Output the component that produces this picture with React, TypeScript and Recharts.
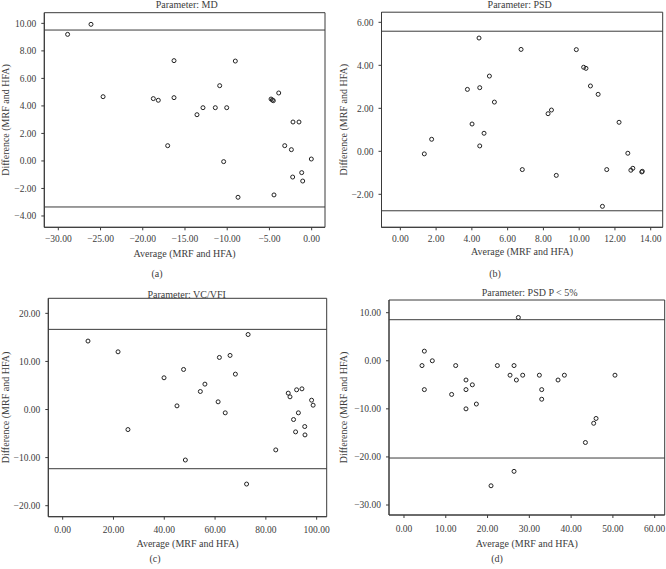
import React from 'react';
import { ScatterChart, Scatter, XAxis, YAxis, ReferenceLine, ReferenceArea, Label } from 'recharts';

// ---- Panel (a) MD ----
const mdAvg = [-28.9, -26.13, -24.7, -18.75, -18.16, -16.3, -16.3, -17.05, -13.58, -12.87, -11.41, -10.06, -10.89, -10.42, -9.04, -8.72, -4.81, -4.65, -4.54, -3.9, -4.46, -3.19, -2.21, -1.5, -2.4, -2.25, -1.18, -1.06, -0.04];
const mdDiff = [9.2, 9.93, 4.67, 4.53, 4.41, 7.29, 4.6, 1.11, 3.36, 3.87, 3.87, 3.87, 5.47, -0.05, 7.26, -2.64, 4.5, 4.43, 4.38, 4.94, -2.47, 1.11, 2.83, 2.83, 0.82, -1.17, -0.85, -1.46, 0.14];
const mdLimits = [9.515, -3.346];
const mdXTicks = [-30, -25, -20, -15, -10, -5, 0];
const mdYTicks = [-4, -2, 0, 2, 4, 6, 8, 10];

// ---- Panel (b) PSD ----
const psdAvg = [1.34, 1.75, 3.75, 4.01, 4.4, 4.44, 4.44, 4.68, 4.98, 5.26, 6.75, 6.82, 8.26, 8.45, 8.72, 9.84, 10.25, 10.38, 10.63, 11.06, 11.3, 11.54, 12.23, 12.72, 12.89, 13.0, 13.5, 13.53];
const psdDiff = [-0.12, 0.56, 2.88, 1.27, 5.27, 2.96, 0.25, 0.84, 3.5, 2.29, 4.74, -0.85, 1.75, 1.92, -1.12, 4.73, 3.91, 3.86, 3.04, 2.65, -2.56, -0.85, 1.35, -0.09, -0.88, -0.79, -0.96, -0.93];
const psdLimits = [5.587, -2.766];
const psdXTicks = [0, 2, 4, 6, 8, 10, 12, 14];
const psdYTicks = [-2, 0, 2, 4, 6];

// ---- Panel (c) VC/VFI ----
const vfiAvg = [9.97, 21.8, 25.7, 39.9, 45.0, 47.6, 48.3, 54.2, 56.0, 61.2, 61.7, 64.0, 65.9, 68.0, 73.0, 72.4, 83.9, 88.8, 89.5, 90.9, 91.7, 92.1, 92.8, 94.2, 95.3, 95.4, 98.0, 98.6];
const vfiDiff = [14.24, 12.0, -4.17, 6.6, 0.76, 8.33, -10.5, 3.75, 5.28, 1.6, 10.83, -0.69, 11.25, 7.36, 15.6, -15.5, -8.4, 3.4, 2.64, -2.08, -4.65, 4.1, -0.69, 4.3, -3.54, -5.28, 1.94, 0.9];
const vfiLimits = [16.67, -12.31];
const vfiXTicks = [0, 20, 40, 60, 80, 100];
const vfiYTicks = [-20, -10, 0, 10, 20];

// ---- Panel (d) PSD P < 5% ----
const psd5Avg = [4.31, 4.87, 4.87, 6.78, 11.4, 12.37, 14.84, 14.84, 14.84, 16.36, 17.32, 20.83, 22.35, 25.38, 26.34, 26.9, 26.34, 27.37, 28.41, 32.4, 32.96, 32.96, 36.87, 38.39, 43.42, 45.4, 45.97, 50.5];
const psd5Diff = [-1, 2, -6, 0, -7, -1, -4, -6, -10, -5, -9, -26, -1, -3, -1, -4, -23, 9, -3, -3, -6, -8, -4, -3, -17, -13, -12, -3];
const psd5Limits = [8.54, -20.23];
const psd5XTicks = [0, 10, 20, 30, 40, 50, 60];
const psd5YTicks = [-30, -20, -10, 0, 10];

const titles = ['Parameter: MD', 'Parameter: PSD', 'Parameter: VC/VFI', 'Parameter: PSD P < 5%'];
const captions = ['(a)', '(b)', '(c)', '(d)'];
const xLabel = 'Average (MRF and HFA)';
const yLabel = 'Difference (MRF and HFA)';

const FONT = '"Liberation Serif", "Times New Roman", Times, serif';
const TEXT = '#3c3c3c';
const LINE = '#3a3a3a';

function fmt(v: number): string {
  const s = Math.abs(v).toFixed(2);
  return v < -1e-9 ? '\u2212' + s : s;
}

const Dot = (props: any) => {
  const { cx, cy } = props;
  if (cx == null || cy == null) return null;
  return <circle cx={cx} cy={cy} r={2} fill="none" stroke="#222" strokeWidth={1} />;
};

type PanelProps = {
  ox: number; oy: number;
  plot: { l: number; r: number; t: number; b: number };
  xDomain: [number, number]; yDomain: [number, number];
  xs: number[]; ys: number[]; limits: number[];
  xTicks: number[]; yTicks: number[];
  title: string; titlePos: [number, number];
  caption: string; captionPos: [number, number];
  xLabelY: number; yLabelX: number; xTickMargin: number;
};

const W = 333;
const H = 285;

function Panel(p: PanelProps) {
  const data = p.xs.map((x, i) => ({ x, y: p.ys[i] }));
  const tickStyle = { fontSize: 9.5, fill: TEXT, fontFamily: 'Liberation Serif' };
  return (
    <div style={{ position: 'absolute', left: p.ox, top: p.oy, width: W, height: H }}>
      <ScatterChart
        width={W}
        height={H}
        margin={{ top: p.plot.t, right: W - p.plot.r, left: 0, bottom: 0 }}
      >
        <XAxis
          type="number"
          dataKey="x"
          domain={p.xDomain}
          allowDataOverflow
          ticks={p.xTicks}
          interval={0}
          tickFormatter={fmt}
          height={H - p.plot.b}
          tickSize={3}
          tickMargin={p.xTickMargin}
          tick={tickStyle}
          axisLine={{ stroke: LINE }}
          tickLine={{ stroke: LINE }}
        >
          <Label
            value={xLabel}
            position="insideBottom"
            offset={H - p.xLabelY - 3.5}
            style={{ fontSize: 10, fill: TEXT }}
          />
        </XAxis>
        <YAxis
          type="number"
          dataKey="y"
          domain={p.yDomain}
          allowDataOverflow
          ticks={p.yTicks}
          interval={0}
          tickFormatter={fmt}
          width={p.plot.l}
          tickSize={3}
          tickMargin={5}
          tick={tickStyle}
          axisLine={{ stroke: LINE }}
          tickLine={{ stroke: LINE }}
        >
          <Label
            value={yLabel}
            angle={-90}
            position="insideLeft"
            offset={p.yLabelX}
            style={{ fontSize: 10, fill: TEXT, textAnchor: 'middle' }}
          />
        </YAxis>
        <ReferenceArea
          x1={p.xDomain[0]}
          x2={p.xDomain[1]}
          y1={p.yDomain[0]}
          y2={p.yDomain[1]}
          fill="none"
          stroke={LINE}
          strokeWidth={1}
          ifOverflow="visible"
        />
        {p.limits.map((v, i) => (
          <ReferenceLine key={i} y={v} stroke={LINE} strokeWidth={1} ifOverflow="visible" />
        ))}
        <Scatter data={data} shape={Dot} isAnimationActive={false} />
      </ScatterChart>
      <div
        style={{
          position: 'absolute', left: p.titlePos[0], top: p.titlePos[1],
          transform: 'translate(-50%, -50%)', fontSize: 10, lineHeight: 1,
          whiteSpace: 'nowrap', color: TEXT, fontFamily: FONT,
        }}
      >
        {p.title}
      </div>
      <div
        style={{
          position: 'absolute', left: p.captionPos[0], top: p.captionPos[1],
          transform: 'translate(-50%, -50%)', fontSize: 10, lineHeight: 1,
          whiteSpace: 'nowrap', color: TEXT, fontFamily: FONT,
        }}
      >
        {p.caption}
      </div>
    </div>
  );
}

export default function App() {
  return (
    <div style={{ position: 'absolute', left: 0, top: 0, width: 666, height: 569, background: '#fff', overflow: 'hidden', fontFamily: FONT }}>
      <style>{`.recharts-wrapper svg text, .recharts-wrapper svg tspan { font-family: "Liberation Serif", "Times New Roman", serif !important; }`}</style>
      <Panel
        ox={0} oy={0}
        plot={{ l: 44.3, r: 325, t: 12.7, b: 227.3 }}
        xDomain={[-31.66, 1.58]} yDomain={[-4.823, 10.775]}
        xs={mdAvg} ys={mdDiff} limits={mdLimits}
        xTicks={mdXTicks} yTicks={mdYTicks}
        title={titles[0]} titlePos={[186.7, 5]}
        caption={captions[0]} captionPos={[157, 274]}
        xLabelY={253.3} yLabelX={5} xTickMargin={5}
      />
      <Panel
        ox={333} oy={0}
        plot={{ l: 48.5, r: 329.7, t: 12.2, b: 227.3 }}
        xDomain={[-1.053, 14.67]} yDomain={[-3.535, 6.471]}
        xs={psdAvg} ys={psdDiff} limits={psdLimits}
        xTicks={psdXTicks} yTicks={psdYTicks}
        title={titles[1]} titlePos={[186.7, 5]}
        caption={captions[1]} captionPos={[162, 274]}
        xLabelY={251} yLabelX={10} xTickMargin={5}
      />
      <Panel
        ox={0} oy={285}
        plot={{ l: 48.3, r: 326.7, t: 13.3, b: 231.7 }}
        xDomain={[-5.66, 103.95]} yDomain={[-22.29, 23.13]}
        xs={vfiAvg} ys={vfiDiff} limits={vfiLimits}
        xTicks={vfiXTicks} yTicks={vfiYTicks}
        title={titles[2]} titlePos={[186.7, 10]}
        caption={captions[2]} captionPos={[155, 274]}
        xLabelY={258.3} yLabelX={5} xTickMargin={7}
      />
      <Panel
        ox={333} oy={285}
        plot={{ l: 56, r: 331.7, t: 15, b: 230 }}
        xDomain={[-3.59, 62.4]} yDomain={[-32.08, 12.64]}
        xs={psd5Avg} ys={psd5Diff} limits={psd5Limits}
        xTicks={psd5XTicks} yTicks={psd5YTicks}
        title={titles[3]} titlePos={[196.7, 8.3]}
        caption={captions[3]} captionPos={[164, 274]}
        xLabelY={258.3} yLabelX={10} xTickMargin={7}
      />
    </div>
  );
}
